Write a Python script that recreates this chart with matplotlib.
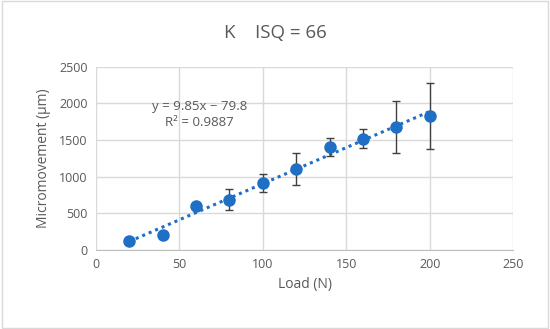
import matplotlib.pyplot as plt
import numpy as np

plt.rcParams['font.family'] = ['Open Sans', 'DejaVu Sans']

load = [20, 40, 60, 80, 100, 120, 140, 160, 180, 200]
movement = [122, 208, 607, 689, 911, 1105, 1405, 1519, 1677, 1827]
error = [0, 0, 0, 143, 125, 220, 125, 127, 350, 450]
slope, intercept = 9.85, -79.8

grey = '#595959'
blue = '#1f6fc5'

fig = plt.figure(figsize=(5.5, 3.29), dpi=100)
fig.patches.append(plt.Rectangle((0.003, 0.003), 0.994, 0.994, transform=fig.transFigure,
                                 fill=False, edgecolor='#d9d9d9', linewidth=1))
ax = fig.add_axes([0.1745, 0.24, 0.7585, 0.557])

x_fit = np.array([load[0], load[-1]])
ax.plot(x_fit, slope * x_fit + intercept, linestyle=(0, (1, 1.3)), color=blue,
        linewidth=2.2, zorder=2)
ax.errorbar(load, movement, yerr=error, fmt='o', color=blue, markersize=8,
            ecolor='#404040', elinewidth=1, capsize=3, capthick=1, zorder=3)

ax.set_xlim(0, 250)
ax.set_ylim(0, 2500)
ax.set_xticks(range(0, 251, 50))
ax.set_yticks(range(0, 2501, 500))
ax.grid(True, color='#d9d9d9', linewidth=1)
ax.set_axisbelow(True)
for side in ['top', 'right', 'left']:
    ax.spines[side].set_visible(False)
ax.spines['bottom'].set_color('#bfbfbf')
ax.tick_params(length=0, labelsize=9, labelcolor=grey, pad=6)

ax.set_xlabel('Load (N)', fontsize=10, color=grey, labelpad=4)
ax.set_ylabel('Micromovement (µm)', fontsize=10, color=grey, labelpad=6)
fig.text(0.5, 0.9, 'K    ISQ = 66', ha='center', va='center', fontsize=13.5, color=grey)

ax.text(62, 1850, 'y = 9.85x − 79.8\nR² = 0.9887', ha='center', va='center',
        fontsize=9.5, color=grey, linespacing=1.3)

fig.savefig('out.png', dpi=100)
